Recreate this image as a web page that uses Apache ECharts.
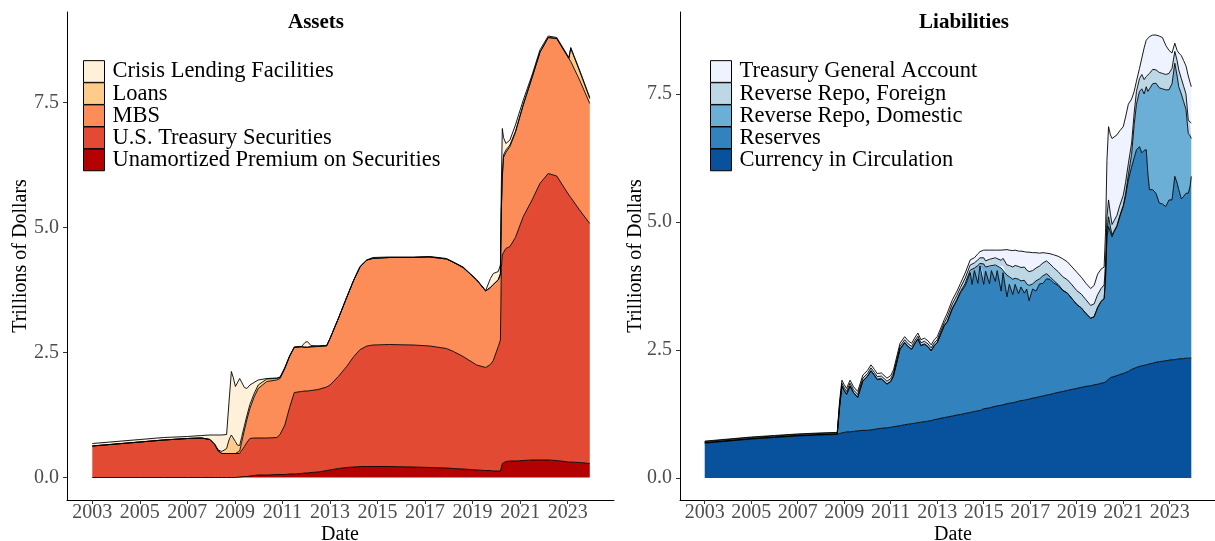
<!DOCTYPE html>
<html>
<head>
<meta charset="utf-8">
<script src="https://cdn.jsdelivr.net/npm/echarts@6/dist/echarts.min.js"></script>
<style>
  html, body { margin: 0; padding: 0; background: #ffffff; }
  #chart { width: 1215px; height: 541px; }
</style>
</head>
<body>
<div id="chart"></div>
<script>
// Federal Reserve balance sheet, trillions of dollars, dated by decimal year.

// ---- Assets ----
const assetYears = [
  2003.0, 2004.0, 2005.0, 2006.0, 2007.0, 2007.6, 2007.95, 2008.15, 2008.3, 2008.45,
  2008.65, 2008.75, 2008.85, 2008.93, 2009.02, 2009.1, 2009.2, 2009.28, 2009.4, 2009.5,
  2009.63, 2009.8, 2009.98, 2010.34, 2010.76, 2010.9, 2011.1, 2011.3, 2011.5, 2011.8,
  2011.95, 2012.05, 2012.2, 2012.5, 2012.86, 2013.0, 2013.35, 2013.7, 2014.0, 2014.27,
  2014.55, 2014.8, 2015.5, 2016.5, 2017.2, 2017.9, 2018.2, 2018.6, 2019.17, 2019.55,
  2019.75, 2019.87, 2020.08, 2020.17, 2020.21, 2020.25, 2020.3, 2020.4, 2020.57, 2020.8,
  2021.13, 2021.5, 2021.83, 2022.18, 2022.54, 2023.05, 2023.13, 2023.5, 2023.93
];
const unamortizedPremium = [
  0, 0, 0, 0, 0, 0, 0, 0, 0, 0,
  0, 0, 0, 0, 0, 0, .01, .01, .02, .02,
  .03, .04, .05, .05, .06, .06, .06, .07, .07, .08,
  .09, .09, .10, .11, .14, .15, .18, .20, .21, .22,
  .22, .22, .22, .21, .20, .19, .18, .17, .15, .14,
  .14, .13, .13, .13, .20, .28, .30, .32, .33, .33,
  .34, .35, .35, .35, .34, .31, .31, .30, .28
];
const treasurySecurities = [
  .63, .67, .71, .75, .78, .79, .76, .66, .53, .48,
  .48, .48, .48, .48, .48, .48, .47, .49, .60, .68,
  .75, .75, .74, .74, .74, .80, .99, 1.33, 1.63, 1.64,
  1.64, 1.64, 1.64, 1.65, 1.67, 1.70, 1.84, 2.02, 2.21, 2.34,
  2.41, 2.43, 2.44, 2.44, 2.43, 2.39, 2.34, 2.25, 2.10, 2.06,
  2.12, 2.21, 2.49, 2.62, 4.00, 4.17, 4.20, 4.26, 4.29, 4.47,
  4.88, 5.20, 5.53, 5.73, 5.69, 5.34, 5.29, 5.05, 4.80
];
const mortgageBacked = [
  0, 0, 0, 0, 0, 0, 0, 0, 0, 0,
  0, 0, 0, 0, 0, .01, .05, .20, .33, .45,
  .60, .81, .99, 1.13, 1.15, 1.12, 1.13, 1.02, .90, .89,
  .87, .87, .87, .86, .82, .93, 1.16, 1.38, 1.53, 1.66,
  1.72, 1.73, 1.74, 1.75, 1.78, 1.79, 1.78, 1.78, 1.70, 1.53,
  1.54, 1.52, 1.33, 1.30, 1.15, 1.55, 1.90, 1.92, 2.00, 2.10,
  2.23, 2.45, 2.62, 2.72, 2.75, 2.73, 2.72, 2.60, 2.40
];
const loans = [
  0, 0, 0, 0, 0, 0, 0, .01, .02, .04,
  .10, .27, .37, .34, .24, .16, .11, .10, .09, .08,
  .08, .07, .07, .05, .03, .02, .01, .01, .01, .01,
  .01, .01, .01, .01, .01, 0, 0, 0, 0, 0,
  0, 0, 0, 0, 0, 0, 0, 0, 0, 0,
  0, 0, .01, .03, .05, .05, .05, .05, .03, .02,
  .01, 0, 0, 0, 0, 0, .26, .18, .10
];
const crisisLending = [
  .05, .05, .05, .05, .04, .05, .09, .18, .30, .33,
  .28, .75, 1.27, 1.18, 1.10, 1.20, 1.34, 1.15, .76, .55,
  .39, .23, .10, .01, .01, .01, .01, 0, 0, 0,
  .09, .11, .02, 0, 0, 0, 0, 0, 0, 0,
  0, .02, .01, .01, .01, .01, .01, .01, .01, .01,
  .18, .22, .16, .17, .50, .93, .35, .13, .10, .13,
  .09, .05, .05, .03, .02, .02, .02, .02, .02
];

// ---- Liabilities ----
const liabilityYears = [
  2003.0, 2004.0, 2005.0, 2006.0, 2007.0, 2008.0, 2008.7,
  2008.8, 2008.9, 2009.0, 2009.1, 2009.25, 2009.4, 2009.58, 2009.8, 2010.0, 2010.15,
  2010.3, 2010.42, 2010.6, 2010.84, 2011.0, 2011.12, 2011.4, 2011.6, 2011.75, 2011.9,
  2012.05, 2012.17, 2012.3, 2012.45, 2012.6, 2012.74, 2012.87, 2013.0, 2013.3,
  2013.43, 2013.65, 2013.85, 2014.0,
  2014.2, 2014.42, 2014.5, 2014.6, 2014.75, 2014.84,
  2014.92, 2015.0, 2015.08, 2015.25, 2015.33, 2015.5, 2015.58, 2015.75, 2015.83, 2016.0,
  2016.1, 2016.25, 2016.35, 2016.5, 2016.6, 2016.75, 2016.85, 2016.95, 2017.1, 2017.25,
  2017.4, 2017.55, 2017.7, 2017.85, 2018.0, 2018.2, 2018.4, 2018.6, 2018.8, 2019.0,
  2019.2, 2019.4, 2019.6, 2019.75, 2019.9, 2020.05, 2020.18,
  2020.24, 2020.3, 2020.37, 2020.45, 2020.52, 2020.6, 2020.73, 2020.85, 2021.0, 2021.1,
  2021.22, 2021.36, 2021.47, 2021.57, 2021.7, 2021.8, 2021.9, 2021.99, 2022.06, 2022.13,
  2022.27, 2022.41, 2022.55, 2022.69, 2022.83, 2022.97, 2023.1, 2023.22, 2023.32, 2023.39,
  2023.5, 2023.6, 2023.7, 2023.8, 2023.88, 2023.93
];
const currencyInCirculation = [
  .68, .72, .76, .79, .82, .84, .85,
  .87, .88, .89, .90, .90, .91, .92, .93, .93, .94,
  .95, .96, .97, .98, .99, 1.00, 1.02, 1.04, 1.05, 1.06,
  1.07, 1.08, 1.09, 1.10, 1.11, 1.12, 1.14, 1.15, 1.18,
  1.19, 1.21, 1.23, 1.24,
  1.26, 1.28, 1.29, 1.30, 1.31, 1.32,
  1.34, 1.35, 1.35, 1.37, 1.38, 1.40, 1.40, 1.42, 1.43, 1.45,
  1.46, 1.47, 1.48, 1.50, 1.51, 1.52, 1.53, 1.54, 1.56, 1.57,
  1.59, 1.60, 1.62, 1.63, 1.65, 1.67, 1.69, 1.71, 1.73, 1.75,
  1.77, 1.79, 1.80, 1.82, 1.83, 1.85, 1.86,
  1.87, 1.90, 1.93, 1.96, 1.97, 1.98, 2.00, 2.02, 2.04, 2.06,
  2.08, 2.12, 2.14, 2.16, 2.18, 2.19, 2.20, 2.21, 2.22, 2.23,
  2.24, 2.26, 2.27, 2.28, 2.29, 2.30, 2.31, 2.31, 2.32, 2.32,
  2.33, 2.33, 2.34, 2.34, 2.34, 2.34
];
const reserves = [
  .01, .01, .01, .01, .01, .01, .01,
  .51, .91, .81, .73, .89, .75, .65, .96, 1.05, 1.15,
  1.05, .96, .96, .85, .89, .99, 1.49, 1.60, 1.51, 1.45,
  1.56, 1.63, 1.49, 1.51, 1.45, 1.36, 1.44, 1.49, 1.79,
  1.85, 2.09, 2.24, 2.38,
  2.49, 2.73, 2.49, 2.75, 2.49, 2.82,
  2.77, 2.43, 2.69, 2.42, 2.67, 2.44, 2.65, 2.23, 2.58, 2.09,
  2.32, 2.11, 2.30, 2.10, 2.22, 2.09, 2.16, 1.92, 2.13, 2.08,
  2.20, 2.20, 2.27, 2.25, 2.16, 2.09, 1.97, 1.90, 1.77, 1.64,
  1.55, 1.42, 1.32, 1.33, 1.50, 1.60, 1.64,
  2.03, 2.80, 2.98, 2.84, 2.74, 2.82, 2.91, 3.08, 3.26, 3.44,
  3.74, 3.95, 4.11, 4.25, 4.29, 4.16, 4.20, 4.20, 3.73, 3.40,
  3.39, 3.30, 3.10, 3.07, 3.01, 3.13, 3.12, 3.58, 3.44, 3.31,
  3.12, 3.17, 3.22, 3.22, 3.36, 3.55
];
const reverseRepoDomestic = [
  0, 0, 0, 0, 0, 0, 0,
  .01, .01, .01, .01, .01, .01, .01, .01, .01, .01,
  .01, .01, .01, .01, .01, .01, .01, .01, .01, .01,
  .01, .01, .01, .01, .01, .01, .01, .01, .01,
  .02, .02, .02, .02,
  .05, .05, .30, .05, .35, .05,
  .06, .40, .08, .35, .08, .32, .10, .45, .12, .42,
  .15, .30, .12, .28, .12, .25, .10, .30, .10, .20,
  .10, .15, .10, .05, .05, .02, .01, 0, 0, 0,
  0, 0, 0, 0, 0, 0, 0,
  .02, .10, .19, .10, .04, .02, .02, .02, .02, .05,
  .10, .25, .65, .89, 1.08, 1.25, 1.10, 1.23, 1.60, 1.97,
  2.07, 2.15, 2.25, 2.25, 2.28, 2.15, 2.27, 2.21, 2.09, 2.01,
  2.05, 1.85, 1.64, 1.17, .98, .74
];
const reverseRepoForeign = [
  .02, .02, .02, .02, .02, .02, .02,
  .05, .05, .05, .05, .05, .05, .05, .05, .05, .05,
  .05, .05, .05, .05, .05, .05, .05, .05, .05, .05,
  .05, .05, .05, .05, .05, .05, .05, .05, .05,
  .08, .08, .08, .08,
  .10, .10, .10, .10, .11, .11,
  .12, .12, .12, .13, .13, .14, .14, .15, .16, .20,
  .22, .24, .25, .25, .26, .26, .27, .27, .26, .25,
  .25, .25, .25, .25, .25, .25, .26, .26, .27, .27,
  .27, .27, .25, .25, .25, .25, .27,
  .28, .30, .33, .25, .20, .20, .20, .20, .20, .22,
  .22, .22, .23, .25, .25, .28, .28, .20, .30, .30,
  .28, .26, .30, .30, .30, .32, .30, .23, .30, .33,
  .30, .30, .30, .26, .27, .30
];
const treasuryGeneralAccount = [
  .01, .01, .01, .01, .01, .01, .01,
  .06, .06, .06, .06, .06, .06, .06, .06, .06, .06,
  .06, .06, .06, .06, .06, .06, .06, .06, .06, .06,
  .06, .06, .06, .06, .06, .06, .06, .06, .06,
  .08, .08, .08, .08,
  .10, .10, .10, .10, .12, .12,
  .15, .15, .20, .18, .20, .15, .15, .20, .15, .30,
  .30, .32, .30, .30, .32, .30, .35, .38, .35, .30,
  .25, .20, .15, .20, .25, .30, .35, .35, .35, .36,
  .33, .32, .33, .36, .40, .38, .35,
  .60, 1.10, 1.43, 1.55, 1.68, 1.60, 1.57, 1.46, 1.34, 1.28,
  1.16, .86, .42, .20, .20, .32, .62, .71, .73, .72,
  .67, .68, .71, .70, .57, .45, .30, .16, .20, .33,
  .45, .50, .55, .86, .77, .71
];

// ---- Axis ticks ----
const yearTicks = [2003, 2005, 2007, 2009, 2011, 2013, 2015, 2017, 2019, 2021, 2023];
const valueTicks = [0, 2.5, 5, 7.5];

const FONT = '"Liberation Serif", "Times New Roman", serif';
const X_MIN = 2001.936;
const X_MAX = 2024.947;

// decimal year -> UTC timestamp
function yearToTime(y) {
  const yr = Math.floor(y);
  const start = Date.UTC(yr, 0, 1);
  const end = Date.UTC(yr + 1, 0, 1);
  return start + (y - yr) * (end - start);
}

function pairs(years, values) {
  return years.map((t, i) => [yearToTime(t), values[i]]);
}

// bottom-to-top stacking order
const assetLayers = [
  { name: 'Unamortized Premium on Securities', values: unamortizedPremium, color: '#b30000' },
  { name: 'U.S. Treasury Securities', values: treasurySecurities, color: '#e34a33' },
  { name: 'MBS', values: mortgageBacked, color: '#fc8d59' },
  { name: 'Loans', values: loans, color: '#fdcc8a' },
  { name: 'Crisis Lending Facilities', values: crisisLending, color: '#fef0d9' }
];
const liabilityLayers = [
  { name: 'Currency in Circulation', values: currencyInCirculation, color: '#08519c' },
  { name: 'Reserves', values: reserves, color: '#3182bd' },
  { name: 'Reverse Repo, Domestic', values: reverseRepoDomestic, color: '#6baed6' },
  { name: 'Reverse Repo, Foreign', values: reverseRepoForeign, color: '#bdd7e7' },
  { name: 'Treasury General Account', values: treasuryGeneralAccount, color: '#eff3ff' }
];

function makeSeries(layers, years, stackId, xIndex, yIndex) {
  return layers.map(l => ({
    name: l.name,
    type: 'line',
    stack: stackId,
    xAxisIndex: xIndex,
    yAxisIndex: yIndex,
    data: pairs(years, l.values),
    symbol: 'none',
    smooth: false,
    lineStyle: { color: '#000000', width: 0.9 },
    itemStyle: { color: l.color },
    areaStyle: { color: l.color, opacity: 1 },
    emphasis: { disabled: true },
    silent: true
  }));
}

// time axis carrying the data; draws only the axis line
function makeTimeAxis(gridIndex) {
  return {
    type: 'time',
    gridIndex: gridIndex,
    position: 'bottom',
    min: yearToTime(X_MIN),
    max: yearToTime(X_MAX),
    axisLine: { show: true, onZero: false, lineStyle: { color: '#000000', width: 1 } },
    axisTick: { show: false },
    axisLabel: { show: false },
    splitLine: { show: false }
  };
}

// companion axis over the same span that places the year ticks and labels
function makeYearAxis(gridIndex) {
  const ticks = yearTicks.map(yearToTime);
  return {
    type: 'value',
    gridIndex: gridIndex,
    position: 'bottom',
    offset: 0,
    min: yearToTime(X_MIN),
    max: yearToTime(X_MAX),
    axisLine: { show: false, onZero: false },
    axisTick: { show: true, length: 4, customValues: ticks, lineStyle: { color: '#333333', width: 1 } },
    axisLabel: {
      customValues: ticks,
      formatter: v => String(new Date(v).getUTCFullYear()),
      color: '#4d4d4d', fontSize: 20, fontFamily: FONT, margin: 3
    },
    splitLine: { show: false }
  };
}

function makeYAxis(gridIndex, min, max) {
  return {
    type: 'value',
    gridIndex: gridIndex,
    min: min,
    max: max,
    axisLine: { show: true, onZero: false, lineStyle: { color: '#000000', width: 1 } },
    axisTick: { show: true, length: 4, customValues: valueTicks, lineStyle: { color: '#333333', width: 1 } },
    axisLabel: {
      customValues: valueTicks,
      formatter: v => v.toFixed(1),
      color: '#4d4d4d', fontSize: 20, fontFamily: FONT, margin: 8
    },
    splitLine: { show: false }
  };
}

function makeLegend(layers, left) {
  return {
    left: left,
    top: 60,
    padding: 0,
    orient: 'vertical',
    icon: 'rect',
    itemWidth: 21,
    itemHeight: 21.7,
    itemGap: -0.9,
    selectedMode: false,
    data: layers.slice().reverse().map(l => ({
      name: l.name,
      itemStyle: { color: l.color, borderColor: '#000000', borderWidth: 1 }
    })),
    textStyle: { fontSize: 22.5, lineHeight: 21.7, fontFamily: FONT, color: '#000000', padding: [0, 0, 0, 3] }
  };
}

function label(text, x, y, opts) {
  return Object.assign({
    type: 'text',
    x: x,
    y: y,
    silent: true,
    style: Object.assign({
      text: text,
      fontSize: 20,
      fontFamily: FONT,
      fill: '#000000',
      align: 'center',
      verticalAlign: 'middle'
    }, (opts && opts.style) || {})
  }, (opts && opts.el) || {});
}

const chart = echarts.init(document.getElementById('chart'), null, { renderer: 'canvas' });

chart.setOption({
  animation: false,
  useUTC: true,
  backgroundColor: '#ffffff',
  grid: [
    { left: 67, top: 12, width: 547, height: 488 },
    { left: 680, top: 12, width: 547, height: 488 }
  ],
  xAxis: [makeTimeAxis(0), makeYearAxis(0), makeTimeAxis(1), makeYearAxis(1)],
  yAxis: [makeYAxis(0, -0.45, 9.31), makeYAxis(1, -0.43, 9.10)],
  legend: [makeLegend(assetLayers, 83), makeLegend(liabilityLayers, 710)],
  series: [
    ...makeSeries(assetLayers, assetYears, 'assets', 0, 0),
    ...makeSeries(liabilityLayers, liabilityYears, 'liabilities', 2, 1)
  ],
  graphic: [
    label('Assets', 316, 23, { style: { fontWeight: 'bold', fontSize: 21 } }),
    label('Liabilities', 964, 23, { style: { fontWeight: 'bold', fontSize: 21 } }),
    label('Date', 340, 535),
    label('Date', 953, 535),
    label('Trillions of Dollars', 21, 256, { el: { rotation: Math.PI / 2 } }),
    label('Trillions of Dollars', 636, 256, { el: { rotation: Math.PI / 2 } })
  ]
});
</script>
</body>
</html>
